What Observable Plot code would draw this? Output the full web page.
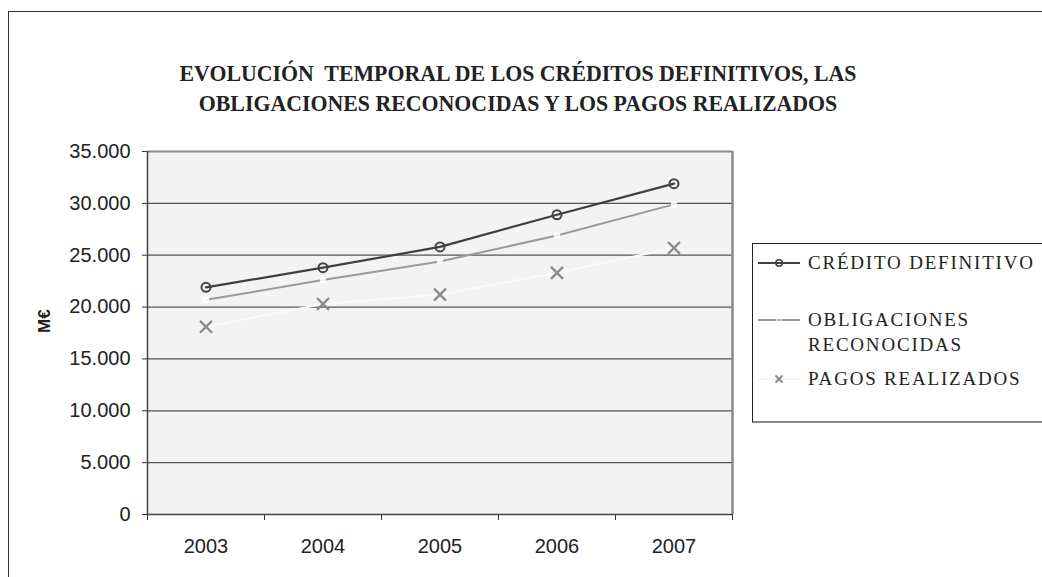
<!DOCTYPE html>
<html>
<head>
<meta charset="utf-8">
<script src="https://cdn.jsdelivr.net/npm/d3@7"></script>
<script src="https://cdn.jsdelivr.net/npm/@observablehq/plot@0.6"></script>
<style>
  html, body { margin: 0; padding: 0; background: #fff; overflow: hidden; }
  #wrap { position: relative; width: 1042px; height: 577px; overflow: hidden; }
  #frame { position: absolute; left: 8px; top: 11px; width: 1100px; height: 700px;
           border-left: 1.5px solid #333; border-top: 1.5px solid #333; }
  #title { position: absolute; left: 0; width: 1036px; top: 59px; text-align: center;
           font-family: "Liberation Serif", "Times New Roman", serif; font-weight: bold;
           font-size: 23px; line-height: 30px; color: #222; letter-spacing: 0px;
           transform: scaleX(0.95); transform-origin: 518px 0; }
  #chart { position: absolute; left: 0; top: 0; }
  #legend { position: absolute; left: 752px; top: 243px; width: 320px; height: 177px;
            border-left: 1px solid #222; border-top: 1px solid #222; border-bottom: 2px solid #888;
            font-family: "Liberation Serif", "Times New Roman", serif; font-size: 19px; color: #222;
            letter-spacing: 1.8px; }
  .item { position: absolute; left: 5px; display: flex; align-items: flex-start; }
  .item svg { flex: none; margin-top: 4px; }
  .item span { margin-left: 8px; line-height: 25px; }
</style>
</head>
<body>
<div id="wrap">
  <div id="frame"></div>
  <div id="chart"></div>
  <div id="title">EVOLUCIÓN&nbsp; TEMPORAL DE LOS CRÉDITOS DEFINITIVOS, LAS<br>OBLIGACIONES RECONOCIDAS Y LOS PAGOS REALIZADOS</div>
  <div id="legend"></div>
</div>
<script>
const years = [2003, 2004, 2005, 2006, 2007];
const creditoDefinitivo = [21900, 23800, 25800, 28900, 31900];
const obligacionesReconocidas = [20700, 22600, 24400, 26900, 29900];
const pagosRealizados = [18100, 20300, 21200, 23300, 25700];
const seriesNames = ["CRÉDITO DEFINITIVO", "OBLIGACIONES RECONOCIDAS", "PAGOS REALIZADOS"];
const yTicks = [0, 5000, 10000, 15000, 20000, 25000, 30000, 35000];

const toRows = (vals) => years.map((y, i) => ({year: y, value: vals[i]}));
const credito = toRows(creditoDefinitivo);
const oblig = toRows(obligacionesReconocidas);
const pagos = toRows(pagosRealizados);
const bounds = [years[0] - 0.5, ...years.map(y => y + 0.5)];
const fmt = d => d === 0 ? "0" : d3.format(",")(d).replace(/,/g, ".");

const chart = Plot.plot({
  width: 1042, height: 577,
  marginLeft: 147, marginRight: 310, marginTop: 151, marginBottom: 63,
  style: {fontFamily: "'Liberation Sans', Arial, sans-serif", background: "transparent"},
  x: {type: "linear", domain: [bounds[0], bounds[bounds.length - 1]]},
  y: {type: "linear", domain: [0, 35000]},
  marks: [
    Plot.frame({fill: "#f2f3f2", stroke: null}),
    Plot.ruleY(yTicks.filter(d => d > 0 && d < 35000), {stroke: "#555", strokeWidth: 1.2}),
    Plot.ruleY([35000], {stroke: "#8a8a8a", strokeWidth: 2}),
    Plot.ruleX([bounds[bounds.length - 1]], {stroke: "#8a8a8a", strokeWidth: 2.5}),
    Plot.axisY({ticks: yTicks, tickFormat: fmt, tickSize: 5, tickPadding: 12, fontSize: 20, color: "#222", label: null, stroke: "#333"}),
    Plot.axisX({ticks: bounds, tickFormat: () => "", tickSize: 6, label: null, stroke: "#333"}),
    Plot.axisX({ticks: years, tickFormat: d => String(d), tickSize: 0, tickPadding: 24, fontSize: 20, color: "#222", label: null}),
    Plot.ruleX([bounds[0]], {stroke: "#444", strokeWidth: 1.5}),
    Plot.ruleY([0], {stroke: "#444", strokeWidth: 1.5}),
    // pagos
    Plot.line(pagos, {x: "year", y: "value", stroke: "#fbfbfb", strokeWidth: 2}),
    Plot.dot(pagos, {x: "year", y: "value", symbol: "times", r: 5.5, stroke: "#8c8c8c", strokeWidth: 2.4}),
    // obligaciones
    Plot.line(oblig, {x: "year", y: "value", stroke: "#9a9a9a", strokeWidth: 2}),
    Plot.dot(oblig, {x: "year", y: "value", symbol: "square", r: 3.5, fill: "#ffffff", fillOpacity: 0.85, stroke: null}),
    // credito
    Plot.line(credito, {x: "year", y: "value", stroke: "#3f3f3f", strokeWidth: 2.2}),
    Plot.dot(credito, {x: "year", y: "value", symbol: "circle", r: 4.5, stroke: "#444", strokeWidth: 2, fill: "none"}),
    Plot.text(["M€"], {frameAnchor: "left", dx: -103, rotate: -90, fontSize: 17, fontWeight: "bold", fill: "#222"})
  ]
});
document.getElementById("chart").append(chart);

// Legend
const legend = document.getElementById("legend");
const items = [
  {top: 6, label: seriesNames[0], draw: `<line x1="0" y1="9" x2="42" y2="9" stroke="#3f3f3f" stroke-width="2"/><circle cx="21" cy="9" r="3.2" fill="none" stroke="#444" stroke-width="1.6"/>`},
  {top: 63, label: "OBLIGACIONES<br>RECONOCIDAS", draw: `<line x1="0" y1="9" x2="42" y2="9" stroke="#9a9a9a" stroke-width="2"/><rect x="18" y="6" width="6" height="6" fill="#fff" opacity="0.85"/><line x1="19" y1="9" x2="23" y2="9" stroke="#9a9a9a" stroke-width="1.5"/>`},
  {top: 122, label: seriesNames[2], draw: `<line x1="0" y1="9" x2="42" y2="9" stroke="#f4f4f4" stroke-width="2"/><path d="M17.5,5.5L24.5,12.5M24.5,5.5L17.5,12.5" stroke="#8c8c8c" stroke-width="2"/>`}
];
for (const it of items) {
  const d = document.createElement("div");
  d.className = "item";
  d.style.top = it.top + "px";
  d.innerHTML = `<svg width="42" height="18">${it.draw}</svg><span>${it.label}</span>`;
  legend.append(d);
}
</script>
</body>
</html>
